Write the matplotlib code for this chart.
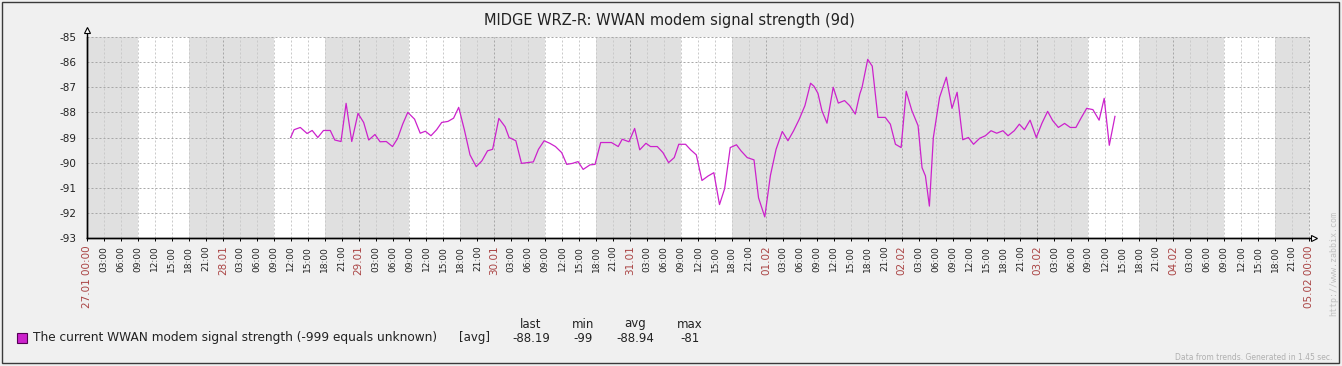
import datetime as dt
import matplotlib
matplotlib.use("Agg")
import matplotlib.pyplot as plt
from matplotlib.patches import Rectangle
from matplotlib.lines import Line2D

W, H = 1342, 366

title = "MIDGE WRZ-R: WWAN modem signal strength (9d)"
start = dt.datetime(2020, 1, 27)
n_days = 9

# hours since 27.01 00:00 and signal values (dBm)
hours = [36.0, 36.6, 37.7, 38.9, 39.8, 40.8, 41.8, 43.0, 43.8, 44.9, 45.8, 46.8, 47.9,
         48.9, 49.8, 50.9, 51.8, 52.9, 54.0, 54.9, 55.8, 56.7, 57.9, 58.9, 59.8, 60.8,
         61.8, 62.7, 63.8, 64.8, 65.7, 66.7, 67.7, 68.8, 69.8, 70.8, 71.7, 72.8, 73.9,
         74.6, 75.8, 76.8, 78.9, 79.8, 80.8, 81.8, 82.8, 83.9, 84.8, 85.8, 86.8, 87.7,
         88.9, 89.8, 90.8, 92.7, 93.9, 94.6, 95.8, 96.8, 97.7, 98.8, 99.6, 100.8, 101.8,
         102.8, 103.8, 104.6, 105.8, 106.7, 107.7, 108.7, 109.8, 110.8, 111.8, 112.7,
         113.7, 114.8, 115.6, 116.7, 117.9, 118.7, 119.8, 120.8, 121.8, 122.9, 123.9,
         124.9, 125.9, 126.9, 127.9, 128.5, 129.2, 129.9, 130.8, 131.9, 132.8, 133.9,
         134.8, 135.8, 136.6, 137.0, 138.0, 138.8, 139.8, 141.1, 142.0, 142.9, 143.9,
         144.8, 145.8, 146.9, 147.6, 148.2, 148.9, 149.6, 150.7, 151.9, 152.9, 153.8,
         154.8, 155.8, 156.7, 157.8, 158.8, 159.8, 160.8, 161.9, 162.8, 163.9, 164.8,
         165.7, 166.7, 167.8, 168.8, 169.8, 170.7, 171.7, 172.8, 173.8, 174.8, 175.7,
         176.7, 177.8, 178.9, 179.8, 180.7, 181.7]
values = [-89.0, -88.69, -88.6, -88.84, -88.72, -89.0, -88.72, -88.72, -89.1, -89.16,
          -87.64, -89.16, -88.04, -88.4, -89.1, -88.88, -89.17, -89.16, -89.36, -89.04,
          -88.47, -88.0, -88.27, -88.83, -88.75, -88.93, -88.69, -88.4, -88.36, -88.23,
          -87.8, -88.69, -89.69, -90.16, -89.93, -89.53, -89.47, -88.24, -88.57, -89.0,
          -89.13, -90.03, -89.97, -89.47, -89.13, -89.23, -89.36, -89.6, -90.07, -90.03,
          -89.96, -90.27, -90.09, -90.07, -89.2, -89.2, -89.36, -89.07, -89.17, -88.64,
          -89.49, -89.23, -89.36, -89.36, -89.6, -90.0, -89.8, -89.27, -89.27, -89.49,
          -89.69, -90.71, -90.53, -90.4, -91.67, -91.04, -89.4, -89.29, -89.53, -89.8,
          -89.89, -91.4, -92.16, -90.51, -89.47, -88.76, -89.13, -88.73, -88.27, -87.73,
          -86.84, -86.96, -87.24, -87.93, -88.43, -87.0, -87.63, -87.53, -87.73, -88.07,
          -87.27, -87.0, -85.89, -86.16, -88.2, -88.2, -88.47, -89.27, -89.4, -87.16,
          -87.93, -88.53, -90.2, -90.53, -91.73, -89.0, -87.4, -86.6, -87.84, -87.2,
          -89.09, -89.0, -89.27, -89.03, -88.93, -88.73, -88.83, -88.73, -88.93, -88.73,
          -88.47, -88.69, -88.31, -89.0, -88.43, -87.96, -88.33, -88.6, -88.44, -88.6,
          -88.6, -88.23, -87.84, -87.89, -88.31, -87.44, -89.31, -88.16]

y_ticks = [-85, -86, -87, -88, -89, -90, -91, -92, -93]
y_labels = ["-85", "-86", "-87", "-88", "-89", "-90", "-91", "-92", "-93"]

legend_label = "The current WWAN modem signal strength (-999 equals unknown)"
stat_names = ["last", "min", "avg", "max"]
stat_values = ["-88.19", "-99", "-88.94", "-81"]

LINE = "#cc22cc"
RED = "#aa4444"
GRAYBG = "#e0e0e0"


def fx(px):
    return px / W


def fy(py):
    return 1 - py / H


fig = plt.figure(figsize=(W / 100, H / 100), dpi=100)
fig.patch.set_facecolor("#f0f0f0")

L, R, T, B = 87, 1309, 37, 238
ax = fig.add_axes([fx(L), fy(B), fx(R - L), (B - T) / H])
ax.set_facecolor(GRAYBG)
ax.set_xlim(0, n_days * 24)
ax.set_ylim(-93, -85)

# working time (weekdays 09:00-18:00) in white
for d in range(n_days):
    day = start + dt.timedelta(days=d)
    if day.weekday() < 5:
        ax.axvspan(d * 24 + 9, d * 24 + 18, color="white", lw=0, zorder=0)

# grid
for h in range(3, n_days * 24 + 1, 3):
    c = "#a8a8a8" if h % 24 == 0 else "#cacaca"
    ax.axvline(h, color=c, lw=0.72, ls=(0, (2, 2)), zorder=1, clip_on=False)
for v in y_ticks[:-1]:
    ax.axhline(v, color="#a8a8a8", lw=0.72, ls=(0, (2, 2)), zorder=1, clip_on=False)

ax.plot(hours, values, color=LINE, lw=0.9, zorder=3)

# axes
for s in ["top", "right"]:
    ax.spines[s].set_visible(False)
for s in ["left", "bottom"]:
    ax.spines[s].set_color("black")
    ax.spines[s].set_linewidth(1.0)

ax.set_yticks(y_ticks)
ax.set_yticklabels(y_labels)
ax.tick_params(axis="y", length=0, pad=7.5, labelsize=7.5, labelcolor="#222222")

xt = list(range(0, n_days * 24 + 1, 3))
xl, xc, xs = [], [], []
for h in xt:
    t = start + dt.timedelta(hours=h)
    if h == 0 or h == n_days * 24:
        xl.append(t.strftime("%d.%m %H:%M")); xc.append(RED); xs.append(7.5)
    elif h % 24 == 0:
        xl.append(t.strftime("%d.%m")); xc.append(RED); xs.append(7.5)
    else:
        xl.append(t.strftime("%H:%M")); xc.append("#222222"); xs.append(6.5)
ax.set_xticks(xt)
ax.set_xticklabels(xl, rotation=90)
for lbl, c, s in zip(ax.get_xticklabels(), xc, xs):
    lbl.set_color(c)
    lbl.set_fontsize(s)
ax.tick_params(axis="x", length=2, width=0.7, pad=3.5)

# axis arrows
fig.add_artist(Line2D([fx(L), fx(L)], [fy(B), fy(29)], color="black", lw=1.0))
fig.add_artist(Line2D([fx(L), fx(1314)], [fy(B), fy(B)], color="black", lw=1.0))
fig.add_artist(Line2D([fx(L)], [fy(30)], marker="^", ms=5, mfc="white", mec="black",
                      mew=0.8, ls="none"))
fig.add_artist(Line2D([fx(1314)], [fy(B)], marker=">", ms=5, mfc="white", mec="black",
                      mew=0.8, ls="none"))

# title
fig.text(fx(669), fy(21), title, ha="center", va="center", fontsize=10.5, color="#222222")

# legend
fig.add_artist(Rectangle((fx(17), fy(343)), fx(10), 10 / H, transform=fig.transFigure,
                         facecolor=LINE, edgecolor="#550055", lw=0.8))
fig.text(fx(33), fy(338), legend_label, ha="left", va="center", fontsize=8.7, color="#222222")
fig.text(fx(474), fy(338), "[avg]", ha="center", va="center", fontsize=8.5, color="#222222")
for name, val, cx in zip(stat_names, stat_values, [531, 583, 635, 690]):
    fig.text(fx(cx), fy(324), name, ha="center", va="center", fontsize=8.5, color="#222222")
    fig.text(fx(cx), fy(338), val, ha="center", va="center", fontsize=8.5, color="#222222")

fig.text(fx(1332), fy(357), "Data from trends. Generated in 1.45 sec.", ha="right",
         va="center", fontsize=5.5, color="#b0b0b0")
fig.text(fx(1334), fy(263), "http://www.zabbix.com", ha="center", va="center",
         rotation=90, fontsize=6, family="DejaVu Sans Mono", color="#c0c0c0")

# frame
fig.add_artist(Rectangle((fx(2), fy(363)), fx(1337), 361 / H, transform=fig.transFigure,
                         fill=False, edgecolor="#3a3a3a", lw=1.0))

fig.savefig("out.png", dpi=100, facecolor=fig.get_facecolor())
